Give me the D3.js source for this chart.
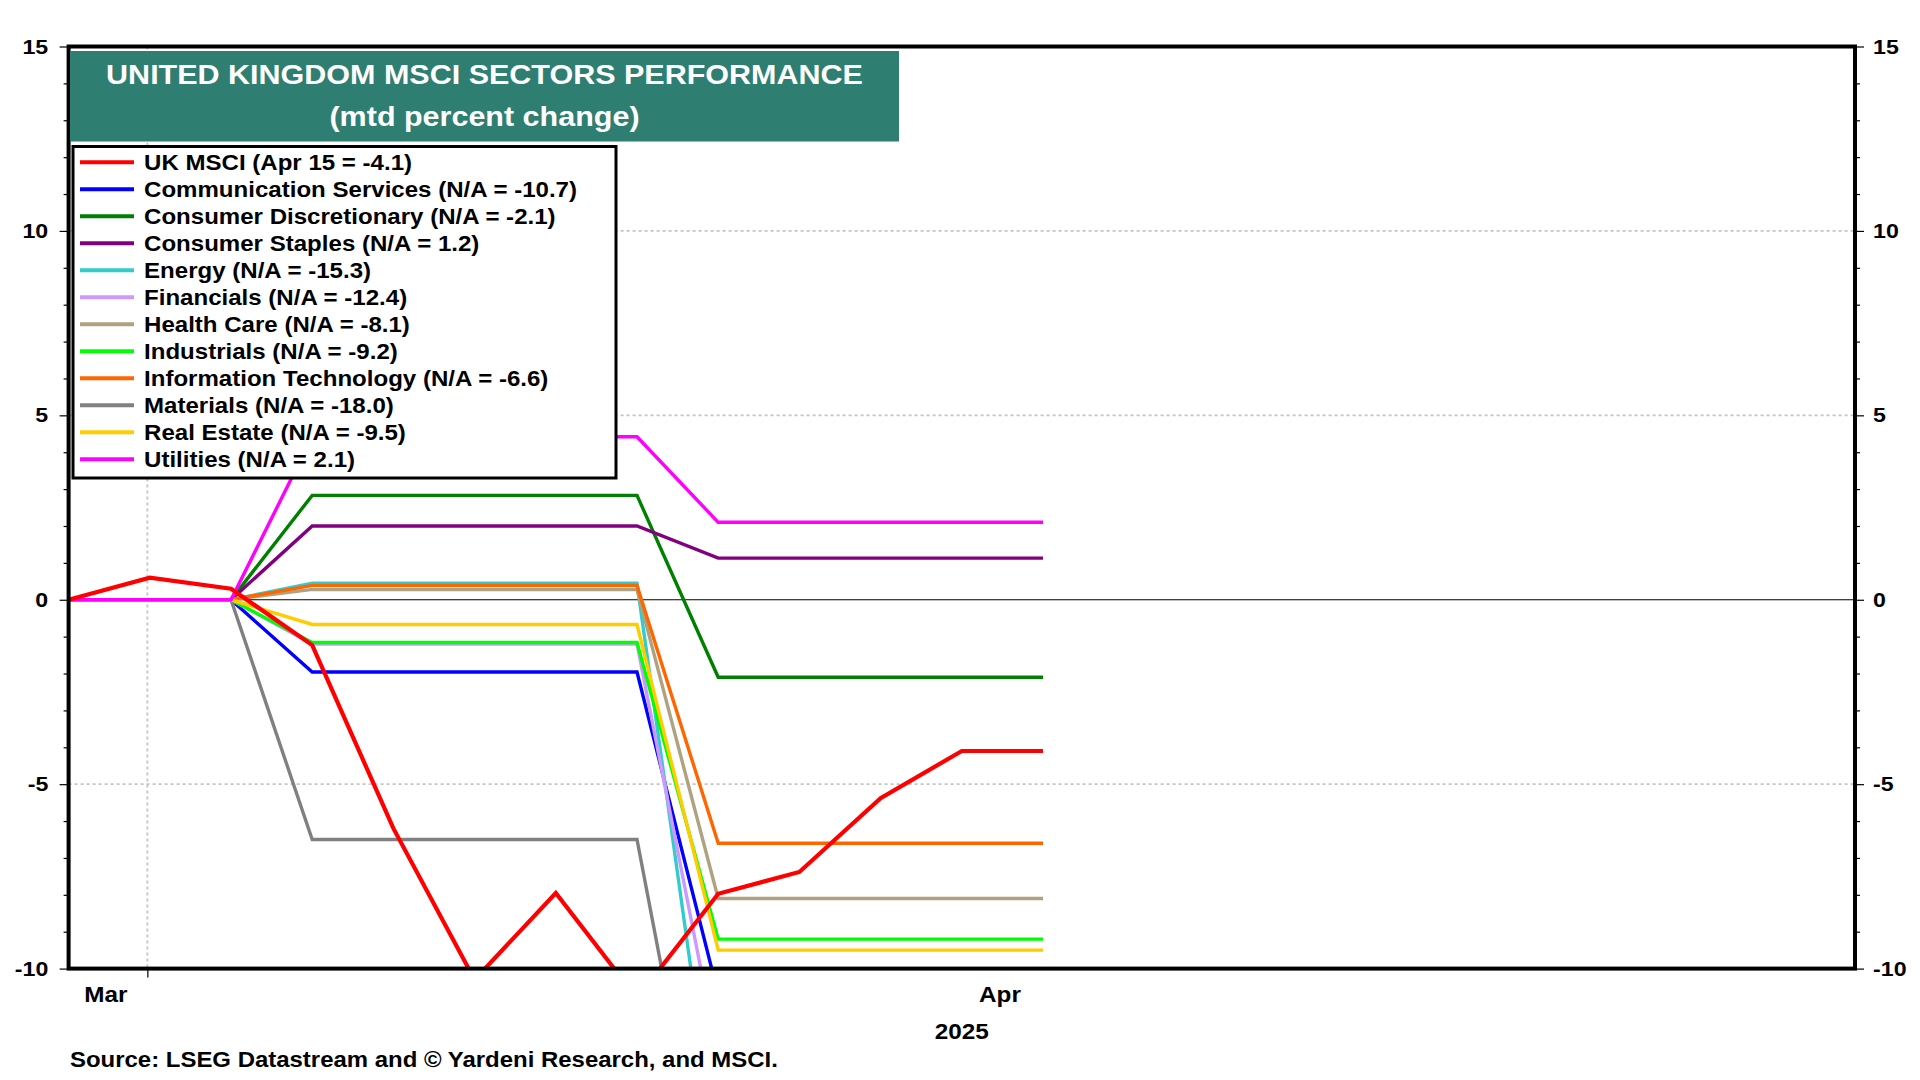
<!doctype html>
<html>
  <head>
    <meta charset="utf-8">
    <title>United Kingdom MSCI sectors performance</title>
    <script src="https://cdnjs.cloudflare.com/ajax/libs/d3/7.8.5/d3.min.js"></script>
    <style>
    body {
      margin: 0;
      background: #fff;
    }
    svg text {
      font-family: 'Liberation Sans', Arial, sans-serif;
      font-weight: bold;
      fill: #000;
    }
    </style>
  </head>
  <body>
    <div id="chart"></div>

    <script>
      // x = observation number (daily points), month labels sit between them
      const days = [0, 1, 2, 3, 4, 5, 6, 7, 8, 9, 10, 11, 12];

      const seriesNames = [
        'UK MSCI (Apr 15 = -4.1)',
        'Communication Services (N/A = -10.7)',
        'Consumer Discretionary (N/A = -2.1)',
        'Consumer Staples (N/A = 1.2)',
        'Energy (N/A = -15.3)',
        'Financials (N/A = -12.4)',
        'Health Care (N/A = -8.1)',
        'Industrials (N/A = -9.2)',
        'Information Technology (N/A = -6.6)',
        'Materials (N/A = -18.0)',
        'Real Estate (N/A = -9.5)',
        'Utilities (N/A = 2.1)'
      ];

      // mtd percent change
      const ukMsci        = [0, 0.6, 0.3, -1.23, -6.2, -10.3, -7.95, -10.8, -7.97, -7.38, -5.38, -4.1, -4.1];
      const commServices  = [0, 0, 0, -1.96, -1.96, -1.96, -1.96, -1.96, -10.7, -10.7, -10.7, -10.7, -10.7];
      const consDiscr     = [0, 0, 0, 2.83, 2.83, 2.83, 2.83, 2.83, -2.1, -2.1, -2.1, -2.1, -2.1];
      const consStaples   = [0, 0, 0, 2.0, 2.0, 2.0, 2.0, 2.0, 1.13, 1.13, 1.13, 1.13, 1.13];
      const energy        = [0, 0, 0, 0.45, 0.45, 0.45, 0.45, 0.45, -15.3, -15.3, -15.3, -15.3, -15.3];
      const financials    = [0, 0, 0, -1.2, -1.2, -1.2, -1.2, -1.2, -12.4, -12.4, -12.4, -12.4, -12.4];
      const healthCare    = [0, 0, 0, 0.28, 0.28, 0.28, 0.28, 0.28, -8.1, -8.1, -8.1, -8.1, -8.1];
      const industrials   = [0, 0, 0, -1.16, -1.16, -1.16, -1.16, -1.16, -9.2, -9.2, -9.2, -9.2, -9.2];
      const infoTech      = [0, 0, 0, 0.39, 0.39, 0.39, 0.39, 0.39, -6.6, -6.6, -6.6, -6.6, -6.6];
      const materials     = [0, 0, 0, -6.5, -6.5, -6.5, -6.5, -6.5, -18.0, -18.0, -18.0, -18.0, -18.0];
      const realEstate    = [0, 0, 0, -0.67, -0.67, -0.67, -0.67, -0.67, -9.5, -9.5, -9.5, -9.5, -9.5];
      const utilities     = [0, 0, 0, 4.42, 4.42, 4.42, 4.42, 4.42, 2.1, 2.1, 2.1, 2.1, 2.1];

      const seriesColors = ['#ff0000', '#0000ff', '#008000', '#800080', '#33cccc', '#cc99ff',
                            '#b0a27f', '#00ff00', '#ff6600', '#808080', '#ffcc00', '#ff00ff'];

      // axis ticks / labels
      const yTicks = [-10, -5, 0, 5, 10, 15];
      const yMinorTicks = [-9, -8, -7, -6, -4, -3, -2, -1, 1, 2, 3, 4, 6, 7, 8, 9, 11, 12, 13, 14];
      const monthTicks = [0.97];
      const monthLabels = ['Mar', 'Apr'];
      const monthLabelAt = [0.46, 11.47];
      const yearLabel = '2025';
      const yearLabelAt = 11;

      const allSeries = [ukMsci, commServices, consDiscr, consStaples, energy, financials,
                         healthCare, industrials, infoTech, materials, realEstate, utilities];

      // the original picture is a bit wider than tall, text gets the same stretch
      const stretch = 1.13;

      const W = 1920, H = 1080;
      const plot = {left: 68.6, right: 1855, top: 46.5, bottom: 968.6};

      const x = d3.scaleLinear().domain([0, 22]).range([plot.left, plot.right]);
      const y = d3.scaleLinear().domain([-10, 15]).range([plot.bottom, plot.top]);

      const svg = d3.select('#chart')
        .append('svg')
        .attr('width', W)
        .attr('height', H);

      svg.append('defs').append('clipPath')
        .attr('id', 'plot-clip')
        .append('rect')
        .attr('x', plot.left)
        .attr('y', plot.top)
        .attr('width', plot.right - plot.left)
        .attr('height', plot.bottom - plot.top);

      function label(g, px, py, str, size, anchor) {
        return g.append('text')
          .attr('transform', `translate(${px},${py}) scale(${stretch},1)`)
          .attr('text-anchor', anchor)
          .style('font-size', size + 'px')
          .text(str);
      }

      // dotted grid
      const grid = svg.append('g');
      grid.selectAll('line.h')
        .data(yTicks.filter(d => d !== 0 && d !== -10 && d !== 15))
        .join('line')
        .attr('x1', plot.left)
        .attr('x2', plot.right)
        .attr('y1', d => y(d))
        .attr('y2', d => y(d))
        .attr('stroke', '#c4c4c4')
        .attr('stroke-width', 1.8)
        .attr('stroke-dasharray', '3,3');

      grid.selectAll('line.v')
        .data(monthTicks)
        .join('line')
        .attr('x1', d => x(d))
        .attr('x2', d => x(d))
        .attr('y1', plot.top)
        .attr('y2', plot.bottom)
        .attr('stroke', '#c4c4c4')
        .attr('stroke-width', 1.8)
        .attr('stroke-dasharray', '3,3');

      // zero line
      svg.append('line')
        .attr('x1', plot.left)
        .attr('x2', plot.right)
        .attr('y1', y(0))
        .attr('y2', y(0))
        .attr('stroke', '#000')
        .attr('stroke-width', 1.2);

      // series lines: sectors first, UK MSCI on top
      const line = d3.line()
        .x((d, i) => x(days[i]))
        .y(d => y(d));

      const drawOrder = d3.range(1, allSeries.length).concat([0]);

      svg.append('g')
        .attr('clip-path', 'url(#plot-clip)')
        .selectAll('path')
        .data(drawOrder)
        .join('path')
        .attr('d', i => line(allSeries[i]))
        .attr('fill', 'none')
        .attr('stroke', i => seriesColors[i])
        .attr('stroke-width', i => i === 0 ? 4.2 : 3.4)
        .attr('stroke-linejoin', 'miter');

      // axes, plain hyphen for negatives like the original
      const fmt = d => String(d);
      const leftMinor = svg.append('g')
        .attr('transform', `translate(${plot.left},0)`)
        .call(d3.axisLeft(y).tickValues(yMinorTicks).tickSize(5).tickFormat(''));
      const leftAxis = svg.append('g')
        .attr('transform', `translate(${plot.left},0)`)
        .call(d3.axisLeft(y).tickValues(yTicks).tickSize(9).tickPadding(9).tickFormat(fmt));
      const rightMinor = svg.append('g')
        .attr('transform', `translate(${plot.right},0)`)
        .call(d3.axisRight(y).tickValues(yMinorTicks).tickSize(5).tickFormat(''));
      const rightAxis = svg.append('g')
        .attr('transform', `translate(${plot.right},0)`)
        .call(d3.axisRight(y).tickValues(yTicks).tickSize(9).tickPadding(7).tickFormat(fmt));
      const bottomAxis = svg.append('g')
        .attr('transform', `translate(0,${plot.bottom})`)
        .call(d3.axisBottom(x).tickValues(monthTicks).tickSize(9).tickFormat(''));

      [leftMinor, leftAxis, rightMinor, rightAxis, bottomAxis].forEach(g => {
        g.select('.domain').remove();
        g.selectAll('.tick line').attr('stroke', '#000').attr('stroke-width', 1.2);
        g.selectAll('.tick text')
          .style('font-size', '20.5px')
          .style('font-family', null)
          .attr('fill', '#000')
          .attr('transform', `scale(${stretch},1)`);
      });

      // frame
      svg.append('rect')
        .attr('x', plot.left)
        .attr('y', plot.top)
        .attr('width', plot.right - plot.left)
        .attr('height', plot.bottom - plot.top)
        .attr('fill', 'none')
        .attr('stroke', '#000')
        .attr('stroke-width', 4);

      // month and year labels
      monthLabels.forEach((m, i) => label(svg, x(monthLabelAt[i]), 1002, m, 21.5, 'middle'));
      label(svg, x(yearLabelAt), 1039, yearLabel, 21.5, 'middle');

      // title box
      svg.append('rect')
        .attr('x', 70)
        .attr('y', 51)
        .attr('width', 829)
        .attr('height', 90.5)
        .attr('fill', '#2f7e72');
      label(svg, 484.5, 83.5, 'UNITED KINGDOM MSCI SECTORS PERFORMANCE', 27, 'middle').style('fill', '#fff');
      label(svg, 484.5, 126, '(mtd percent change)', 27, 'middle').style('fill', '#fff');

      // legend
      const legend = svg.append('g');
      legend.append('rect')
        .attr('x', 73)
        .attr('y', 146.5)
        .attr('width', 543)
        .attr('height', 331.5)
        .attr('fill', '#fff')
        .attr('stroke', '#000')
        .attr('stroke-width', 3);

      const rows = legend.selectAll('g.row')
        .data(seriesNames)
        .join('g')
        .attr('transform', (d, i) => `translate(0,${162.3 + i * 27})`);

      rows.append('line')
        .attr('x1', 80)
        .attr('x2', 134)
        .attr('y1', 0)
        .attr('y2', 0)
        .attr('stroke', (d, i) => seriesColors[i])
        .attr('stroke-width', 4);

      rows.each(function(d) {
        label(d3.select(this), 144, 7.6, d, 21.3, 'start');
      });

      // source
      label(svg, 70, 1067, 'Source: LSEG Datastream and © Yardeni Research, and MSCI.', 21.2, 'start');
    </script>
  </body>
</html>
